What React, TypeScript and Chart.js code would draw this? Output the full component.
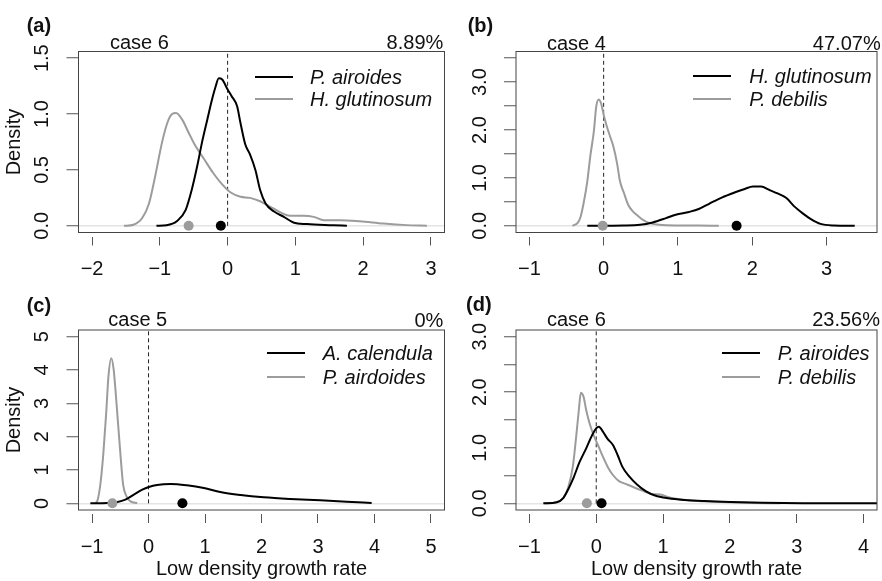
import React, { useEffect, useRef } from 'react';
import { Chart, registerables } from 'chart.js';

Chart.register(...registerables);

const W = 882;
const H = 581;
const FONT = '"Liberation Sans", Arial, Helvetica, sans-serif';
const BLACK = '#000000';
const GRAY = '#9c9c9c';

// ---------- Panel (a) ----------
const aXTicks = [-2, -1, 0, 1, 2, 3];
const aXLabels = ['\u22122', '\u22121', '0', '1', '2', '3'];
const aYTicks = [0, 0.5, 1, 1.5];
const aYLabels = ['0.0', '0.5', '1.0', '1.5'];
const aBlackX = [-1.05, -0.9, -0.75, -0.62, -0.53, -0.45, -0.38, -0.3, -0.23, -0.18, -0.13, -0.08, 0, 0.06, 0.14, 0.19, 0.26, 0.33, 0.41, 0.48, 0.56, 0.68, 0.83, 0.97, 1.17, 1.56, 1.76];
const aBlackY = [0, 0.005, 0.04, 0.14, 0.32, 0.53, 0.74, 0.95, 1.13, 1.24, 1.32, 1.31, 1.22, 1.16, 1.07, 0.92, 0.73, 0.64, 0.5, 0.32, 0.2, 0.13, 0.08, 0.03, 0.015, 0.005, 0];
const aGrayX = [-1.53, -1.39, -1.26, -1.16, -1.07, -0.97, -0.89, -0.82, -0.76, -0.67, -0.58, -0.48, -0.35, -0.21, -0.08, 0.04, 0.19, 0.33, 0.48, 0.63, 0.78, 0.92, 1.12, 1.27, 1.42, 1.66, 1.95, 2.3, 2.64, 2.94];
const aGrayY = [0, 0.01, 0.07, 0.2, 0.44, 0.74, 0.92, 1.0, 1.01, 0.95, 0.84, 0.72, 0.6, 0.47, 0.37, 0.3, 0.26, 0.25, 0.22, 0.17, 0.12, 0.09, 0.09, 0.08, 0.05, 0.05, 0.04, 0.02, 0.006, 0];
const aBlackDot = -0.1;
const aGrayDot = -0.575;

// ---------- Panel (b) ----------
const bXTicks = [-1, 0, 1, 2, 3];
const bXLabels = ['\u22121', '0', '1', '2', '3'];
const bYTicks = [0, 0.5, 1, 1.5, 2, 2.5, 3, 3.5];
const bYLabels = ['0.0', '', '1.0', '', '2.0', '', '3.0', ''];
const bBlackX = [-0.22, 0.27, 0.49, 0.66, 0.84, 0.97, 1.15, 1.28, 1.42, 1.59, 1.77, 1.9, 2.01, 2.12, 2.23, 2.35, 2.46, 2.57, 2.68, 2.79, 2.92, 3.1, 3.38];
const bBlackY = [0, 0.005, 0.02, 0.07, 0.16, 0.23, 0.29, 0.35, 0.46, 0.59, 0.7, 0.77, 0.82, 0.82, 0.75, 0.67, 0.58, 0.4, 0.26, 0.14, 0.04, 0.007, 0];
const bGrayX = [-0.42, -0.35, -0.31, -0.27, -0.22, -0.18, -0.13, -0.1, -0.066, -0.035, 0, 0.044, 0.088, 0.13, 0.18, 0.22, 0.27, 0.33, 0.4, 0.46, 0.53, 0.62, 0.75, 1.02, 1.28, 1.55];
const bGrayY = [0, 0.06, 0.19, 0.47, 0.93, 1.45, 2.0, 2.49, 2.64, 2.56, 2.32, 2.07, 1.86, 1.66, 1.31, 0.93, 0.7, 0.44, 0.29, 0.21, 0.125, 0.056, 0.02, 0.007, 0.005, 0];
const bBlackDot = 1.79;
const bGrayDot = -0.013;

// ---------- Panel (c) ----------
const cXTicks = [-1, 0, 1, 2, 3, 4, 5];
const cXLabels = ['\u22121', '0', '1', '2', '3', '4', '5'];
const cYTicks = [0, 1, 2, 3, 4, 5];
const cYLabels = ['0', '1', '2', '3', '4', '5'];
const cBlackX = [-1.03, -0.73, -0.55, -0.41, -0.26, -0.11, 0.006, 0.15, 0.39, 0.68, 0.98, 1.27, 1.63, 2.04, 2.51, 3.04, 3.51, 3.95];
const cBlackY = [0, 0.01, 0.04, 0.11, 0.26, 0.41, 0.49, 0.55, 0.58, 0.54, 0.46, 0.34, 0.25, 0.18, 0.13, 0.09, 0.05, 0.01];
const cGrayX = [-0.94, -0.9, -0.85, -0.8, -0.75, -0.71, -0.66, -0.62, -0.59, -0.54, -0.49, -0.45, -0.39, -0.32, -0.2];
const cGrayY = [0, 0.11, 0.61, 1.5, 2.7, 3.8, 4.35, 4.05, 3.5, 2.4, 1.31, 0.56, 0.21, 0.06, 0.01];
const cBlackDot = 0.6;
const cGrayDot = -0.64;

// ---------- Panel (d) ----------
const dXTicks = [-1, 0, 1, 2, 3, 4];
const dXLabels = ['\u22121', '0', '1', '2', '3', '4'];
const dYTicks = [0, 0.5, 1, 1.5, 2, 2.5, 3];
const dYLabels = ['0.0', '', '1.0', '', '2.0', '', '3.0'];
const dBlackX = [-0.79, -0.59, -0.49, -0.42, -0.34, -0.25, -0.15, -0.06, 0, 0.04, 0.1, 0.17, 0.25, 0.32, 0.39, 0.49, 0.61, 0.74, 0.88, 1.08, 1.32, 1.62, 2.01, 2.5, 3.09, 3.83, 4.56];
const dBlackY = [0, 0.02, 0.1, 0.25, 0.46, 0.74, 0.99, 1.23, 1.35, 1.38, 1.29, 1.16, 1.05, 0.87, 0.66, 0.49, 0.34, 0.22, 0.14, 0.09, 0.06, 0.04, 0.024, 0.012, 0.003, 0, 0];
const dGrayX = [-0.79, -0.59, -0.49, -0.42, -0.35, -0.3, -0.26, -0.23, -0.19, -0.15, -0.1, -0.04, 0.025, 0.1, 0.17, 0.25, 0.34, 0.44, 0.56, 0.69, 0.83, 0.96, 1.08, 1.28, 1.52, 1.86, 2.36, 2.75];
const dGrayY = [0, 0.02, 0.1, 0.28, 0.66, 1.2, 1.68, 1.99, 1.92, 1.68, 1.44, 1.23, 1.05, 0.84, 0.66, 0.51, 0.4, 0.35, 0.29, 0.23, 0.17, 0.16, 0.11, 0.07, 0.04, 0.024, 0.006, 0];
const dBlackDot = 0.08;
const dGrayDot = -0.14;

type Panel = {
  xMin: number; xMax: number; yMin: number; yMax: number;
  xTicks: number[]; xLabels: string[]; yTicks: number[]; yLabels: string[];
  blackX: number[]; blackY: number[]; grayX: number[]; grayY: number[];
  blackDot: number; grayDot: number;
  area: { left: number; top: number; right: number; bottom: number };
  yTitle: boolean; xTitle: boolean; yPad: number;
};

const panels: Panel[] = [
  {
    xMin: -2.2, xMax: 3.2, yMin: -0.06, yMax: 1.56,
    xTicks: aXTicks, xLabels: aXLabels, yTicks: aYTicks, yLabels: aYLabels,
    blackX: aBlackX, blackY: aBlackY, grayX: aGrayX, grayY: aGrayY,
    blackDot: aBlackDot, grayDot: aGrayDot,
    area: { left: 78.5, top: 51.5, right: 444.5, bottom: 232.5 },
    yTitle: true, xTitle: false, yPad: 10,
  },
  {
    xMin: -1.18, xMax: 3.68, yMin: -0.14, yMax: 3.64,
    xTicks: bXTicks, xLabels: bXLabels, yTicks: bYTicks, yLabels: bYLabels,
    blackX: bBlackX, blackY: bBlackY, grayX: bGrayX, grayY: bGrayY,
    blackDot: bBlackDot, grayDot: bGrayDot,
    area: { left: 516, top: 51.5, right: 881.5, bottom: 232.5 },
    yTitle: false, xTitle: false, yPad: 10,
  },
  {
    xMin: -1.24, xMax: 5.24, yMin: -0.2, yMax: 5.2,
    xTicks: cXTicks, xLabels: cXLabels, yTicks: cYTicks, yLabels: cYLabels,
    blackX: cBlackX, blackY: cBlackY, grayX: cGrayX, grayY: cGrayY,
    blackDot: cBlackDot, grayDot: cGrayDot,
    area: { left: 78.5, top: 330, right: 444.5, bottom: 510 },
    yTitle: true, xTitle: true, yPad: 18.4,
  },
  {
    xMin: -1.2, xMax: 4.2, yMin: -0.12, yMax: 3.12,
    xTicks: dXTicks, xLabels: dXLabels, yTicks: dYTicks, yLabels: dYLabels,
    blackX: dBlackX, blackY: dBlackY, grayX: dGrayX, grayY: dGrayY,
    blackDot: dBlackDot, grayDot: dGrayDot,
    area: { left: 516, top: 330, right: 882, bottom: 510 },
    yTitle: false, xTitle: true, yPad: 10,
  },
];

const boxPlugin = {
  id: 'rbox',
  afterDatasetsDraw(chart: any) {
    const { ctx, chartArea } = chart;
    const { left, top, right, bottom } = chartArea;
    ctx.save();
    ctx.strokeStyle = '#444444';
    ctx.lineWidth = 1;
    ctx.strokeRect(left, top, right - left, bottom - top);
    ctx.restore();
  },
};

function zip(xs: number[], ys: number[]) {
  return xs.map((x, i) => ({ x, y: ys[i] }));
}

function makeChart(canvas: HTMLCanvasElement, p: Panel) {
  const yW = p.yTitle ? p.area.left : 60;
  const padLeft = p.area.left - yW;
  const xH = p.xTitle ? 71 : 50;
  const padBottom = H - p.area.bottom - xH;
  const padTop = p.area.top;
  const padRight = W - p.area.right;

  return new Chart(canvas, {
    type: 'line',
    data: {
      datasets: [
        {
          type: 'scatter',
          data: [{ x: p.blackDot, y: 0 }],
          pointRadius: 5,
          pointBackgroundColor: BLACK,
          pointBorderWidth: 0,
          borderWidth: 0,
          order: 0,
        } as any,
        {
          type: 'scatter',
          data: [{ x: p.grayDot, y: 0 }],
          pointRadius: 5,
          pointBackgroundColor: GRAY,
          pointBorderWidth: 0,
          borderWidth: 0,
          order: 0,
        },
        {
          type: 'line',
          data: zip(p.blackX, p.blackY),
          borderColor: BLACK,
          borderWidth: 2,
          pointRadius: 0,
          cubicInterpolationMode: 'monotone',
          fill: false,
          order: 1,
        },
        {
          type: 'line',
          data: zip(p.grayX, p.grayY),
          borderColor: GRAY,
          borderWidth: 2,
          pointRadius: 0,
          cubicInterpolationMode: 'monotone',
          fill: false,
          order: 2,
        },
        {
          type: 'line',
          data: [{ x: 0, y: 0 }, { x: 0, y: p.yMax }],
          borderColor: '#222222',
          borderWidth: 1,
          borderDash: [4, 3],
          pointRadius: 0,
          fill: false,
          order: 3,
        },
      ],
    },
    options: {
      responsive: false,
      animation: false,
      events: [],
      layout: { padding: { left: padLeft, right: padRight, top: padTop, bottom: padBottom } },
      plugins: { legend: { display: false }, tooltip: { enabled: false } },
      scales: {
        x: {
          type: 'linear',
          position: 'bottom',
          min: p.xMin,
          max: p.xMax,
          afterBuildTicks: (s: any) => {
            s.ticks = p.xTicks.map((v) => ({ value: v }));
          },
          afterFit: (s: any) => {
            s.height = xH;
          },
          border: { display: false },
          grid: {
            drawOnChartArea: false,
            drawTicks: true,
            tickLength: 13,
            tickColor: '#555555',
            tickWidth: 1,
            tickBorderDash: [0, 4, 9, 100],
          },
          ticks: {
            autoSkip: false,
            maxRotation: 0,
            minRotation: 0,
            padding: 12,
            color: '#111111',
            font: { size: 20, family: FONT },
            callback: (_v: any, i: number) => p.xLabels[i],
          },
          title: {
            display: p.xTitle,
            text: 'Low density growth rate',
            color: '#111111',
            font: { size: 20, family: FONT },
            padding: { top: 0, bottom: 0 },
          },
        },
        y: {
          type: 'linear',
          position: 'left',
          min: p.yMin,
          max: p.yMax,
          afterBuildTicks: (s: any) => {
            s.ticks = p.yTicks.map((v) => ({ value: v }));
          },
          afterFit: (s: any) => {
            s.width = yW;
          },
          border: { display: false },
          grid: {
            drawOnChartArea: true,
            drawTicks: true,
            tickLength: 12,
            tickColor: '#555555',
            tickWidth: 1,
            lineWidth: 1.5,
            color: (ctx: any) => (ctx.tick && ctx.tick.value === 0 ? '#e4e4e4' : 'rgba(0,0,0,0)'),
          },
          ticks: {
            autoSkip: false,
            minRotation: 90,
            maxRotation: 90,
            crossAlign: 'center',
            padding: p.yPad,
            color: '#111111',
            font: { size: 20, family: FONT },
            callback: (_v: any, i: number) => p.yLabels[i],
          },
          title: {
            display: p.yTitle,
            text: 'Density',
            color: '#111111',
            font: { size: 20, family: FONT },
            padding: { top: 2, bottom: 0 },
          },
        },
      },
    } as any,
    plugins: [boxPlugin],
  });
}

type Note = { text: string; left?: number; right?: number; cy: number; bold?: boolean };

const notes: Note[] = [
  { text: '(a)', left: 26.7, cy: 25, bold: true },
  { text: 'case 6', left: 110, cy: 42 },
  { text: '8.89%', right: W - 443.3, cy: 42 },
  { text: '(b)', left: 467.7, cy: 25, bold: true },
  { text: 'case 4', left: 547, cy: 43 },
  { text: '47.07%', right: W - 880.7, cy: 43 },
  { text: '(c)', left: 26.7, cy: 305, bold: true },
  { text: 'case 5', left: 108.3, cy: 318.5 },
  { text: '0%', right: W - 443.3, cy: 319.5 },
  { text: '(d)', left: 466, cy: 304, bold: true },
  { text: 'case 6', left: 547, cy: 318.5 },
  { text: '23.56%', right: W - 880, cy: 318.5 },
];

type LegendRow = { label: string; color: string; lineLeft: number; textLeft: number; cy: number };

const legendRows: LegendRow[] = [
  { label: 'P. airoides', color: BLACK, lineLeft: 255, textLeft: 310, cy: 76.5 },
  { label: 'H. glutinosum', color: GRAY, lineLeft: 255, textLeft: 310, cy: 99 },
  { label: 'H. glutinosum', color: BLACK, lineLeft: 693.3, textLeft: 749.3, cy: 76 },
  { label: 'P. debilis', color: GRAY, lineLeft: 693.3, textLeft: 749.3, cy: 99 },
  { label: 'A. calendula', color: BLACK, lineLeft: 266.7, textLeft: 322.7, cy: 353 },
  { label: 'P. airdoides', color: GRAY, lineLeft: 266.7, textLeft: 322.7, cy: 377 },
  { label: 'P. airoides', color: BLACK, lineLeft: 722, textLeft: 777.7, cy: 353 },
  { label: 'P. debilis', color: GRAY, lineLeft: 722, textLeft: 777.7, cy: 377 },
];

export default function App() {
  const refs = [
    useRef<HTMLCanvasElement>(null),
    useRef<HTMLCanvasElement>(null),
    useRef<HTMLCanvasElement>(null),
    useRef<HTMLCanvasElement>(null),
  ];

  useEffect(() => {
    Chart.defaults.font.family = FONT;
    const charts = refs.map((r, i) => makeChart(r.current as HTMLCanvasElement, panels[i]));
    return () => charts.forEach((c) => c.destroy());
  }, []);

  const textBase: React.CSSProperties = {
    position: 'absolute',
    fontFamily: FONT,
    fontSize: 20,
    lineHeight: '24px',
    height: 24,
    color: '#111',
    whiteSpace: 'nowrap',
  };

  return (
    <div style={{ position: 'absolute', left: 0, top: 0, width: W, height: H, background: '#fff', overflow: 'hidden' }}>
      {refs.map((r, i) => (
        <canvas
          key={i}
          ref={r}
          width={W}
          height={H}
          style={{ position: 'absolute', left: 0, top: 0, width: W, height: H }}
        />
      ))}
      {notes.map((n, i) => (
        <div
          key={'n' + i}
          style={{
            ...textBase,
            top: n.cy - 12,
            left: n.left,
            right: n.right,
            fontWeight: n.bold ? 'bold' : 'normal',
            textAlign: n.right !== undefined ? 'right' : 'left',
          }}
        >
          {n.text}
        </div>
      ))}
      {legendRows.map((l, i) => (
        <React.Fragment key={'l' + i}>
          <div
            style={{
              position: 'absolute',
              left: l.lineLeft,
              top: l.cy - 1,
              width: 38,
              height: 2,
              background: l.color,
            }}
          />
          <div style={{ ...textBase, left: l.textLeft, top: l.cy - 12, fontStyle: 'italic' }}>{l.label}</div>
        </React.Fragment>
      ))}
    </div>
  );
}
